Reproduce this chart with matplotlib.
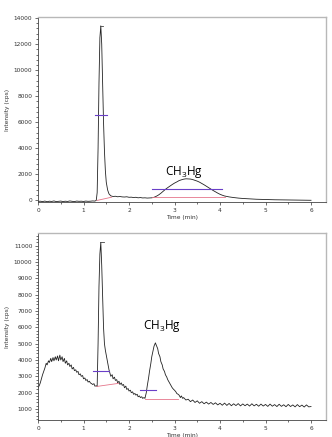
import matplotlib
matplotlib.use("Agg")
import matplotlib.pyplot as plt
from matplotlib.ticker import MultipleLocator

plt.rcParams['font.family'] = ['DejaVu Sans']
plt.rcParams['mathtext.fontset'] = 'custom'
plt.rcParams['mathtext.rm'] = 'Open Sans'
plt.rcParams['mathtext.it'] = 'Open Sans'

# top chromatogram (time in min, intensity in cps)
t_top = [0.00, 0.05, 0.10, 0.15, 0.20, 0.25, 0.30, 0.35, 0.40, 0.45, 0.50, 0.55,
         0.60, 0.65, 0.70, 0.75, 0.80, 0.85, 0.90, 0.95, 1.00, 1.05, 1.10, 1.15,
         1.20, 1.25, 1.28, 1.30, 1.32, 1.34, 1.36, 1.38, 1.40, 1.42, 1.44, 1.46,
         1.48, 1.50, 1.53, 1.56, 1.60, 1.65, 1.70, 1.75, 1.80, 1.85, 1.90, 1.95,
         2.00, 2.05, 2.10, 2.15, 2.20, 2.25, 2.30, 2.35, 2.40, 2.45, 2.50, 2.55,
         2.60, 2.65, 2.70, 2.75, 2.80, 2.85, 2.90, 2.95, 3.00, 3.05, 3.10, 3.15,
         3.20, 3.25, 3.30, 3.35, 3.40, 3.45, 3.50, 3.55, 3.60, 3.65, 3.70, 3.75,
         3.80, 3.85, 3.90, 3.95, 4.00, 4.05, 4.10, 4.20, 4.30, 4.40, 4.50, 4.60,
         4.70, 4.80, 4.90, 5.00, 5.20, 5.40, 5.60, 5.80, 6.00]
i_top = [-80, -60, -90, -50, -100, -60, -80, -40, -90, -70, -50, -90,
         -60, -80, -40, -70, -90, -50, -70, -60, -80, -50, -70, -60,
         -40, -50, 0, 600, 4000, 9000, 12500, 13400, 12000, 9000, 6000, 3800,
         2300, 1400, 800, 500, 350, 300, 320, 280, 300, 270, 260, 280,
         240, 250, 220, 240, 200, 220, 190, 200, 180, 190, 200, 240,
         320, 420, 550, 700, 850, 980, 1100, 1220, 1330, 1420, 1520, 1580,
         1630, 1660, 1650, 1640, 1600, 1540, 1480, 1400, 1300, 1200, 1090, 980,
         870, 760, 660, 560, 470, 400, 340, 270, 220, 180, 150, 130,
         110, 90, 80, 70, 50, 40, 30, 20, 10]

# bottom chromatogram
t_bot = [0.00, 0.03, 0.05, 0.08, 0.10, 0.13, 0.15, 0.18, 0.20, 0.23, 0.25, 0.28,
         0.30, 0.33, 0.35, 0.38, 0.40, 0.43, 0.45, 0.48, 0.50, 0.53, 0.55, 0.58,
         0.60, 0.63, 0.65, 0.68, 0.70, 0.73, 0.75, 0.78, 0.80, 0.83, 0.85, 0.88,
         0.90, 0.93, 0.95, 0.98, 1.00, 1.03, 1.05, 1.08, 1.10, 1.13, 1.15, 1.18,
         1.20, 1.23, 1.25, 1.28, 1.30, 1.32, 1.34, 1.36, 1.38, 1.40, 1.42, 1.44,
         1.46, 1.48, 1.50, 1.52, 1.54, 1.56, 1.58, 1.60, 1.63, 1.65, 1.68, 1.70,
         1.73, 1.75, 1.78, 1.80, 1.83, 1.85, 1.88, 1.90, 1.93, 1.95, 1.98, 2.00,
         2.03, 2.05, 2.08, 2.10, 2.13, 2.15, 2.18, 2.20, 2.23, 2.25, 2.28, 2.30,
         2.33, 2.35, 2.38, 2.40, 2.43, 2.45, 2.48, 2.50, 2.53, 2.55, 2.58, 2.60,
         2.63, 2.65, 2.68, 2.70, 2.73, 2.75, 2.78, 2.80, 2.83, 2.85, 2.88, 2.90,
         2.93, 2.95, 2.98, 3.00, 3.03, 3.05, 3.08, 3.10, 3.13, 3.15, 3.18, 3.20,
         3.25, 3.30, 3.35, 3.40, 3.45, 3.50, 3.55, 3.60, 3.65, 3.70, 3.75, 3.80,
         3.85, 3.90, 3.95, 4.00, 4.05, 4.10, 4.15, 4.20, 4.25, 4.30, 4.35, 4.40,
         4.45, 4.50, 4.55, 4.60, 4.65, 4.70, 4.75, 4.80, 4.85, 4.90, 4.95, 5.00,
         5.05, 5.10, 5.15, 5.20, 5.25, 5.30, 5.35, 5.40, 5.45, 5.50, 5.55, 5.60,
         5.65, 5.70, 5.75, 5.80, 5.85, 5.90, 5.95, 6.00]
i_bot = [2300, 2450, 2600, 2900, 3100, 3350, 3500, 3800, 3700, 3950, 3850, 4100,
         3900, 4150, 3950, 4200, 4000, 4250, 3950, 4300, 4000, 4200, 3900, 4100,
         3800, 3950, 3700, 3800, 3600, 3700, 3450, 3550, 3350, 3400, 3250, 3300,
         3100, 3150, 3000, 3050, 2850, 2900, 2750, 2800, 2650, 2700, 2600, 2550,
         2500, 2550, 2400, 2420, 2380, 5000, 8500, 10500, 11200, 9800, 7800, 6000,
         5000, 4600, 4300, 4000, 3700, 3400, 3200, 3000, 3100, 2850, 2950, 2750,
         2800, 2600, 2700, 2500, 2600, 2450, 2500, 2300, 2400, 2200, 2250, 2100,
         2150, 2000, 2050, 1900, 1950, 1850, 1900, 1750, 1800, 1700, 1750, 1650,
         1700, 1650, 2000, 2400, 2900, 3300, 3800, 4200, 4600, 4850, 5050, 4900,
         4700, 4400, 4200, 3900, 3700, 3450, 3300, 3100, 2950, 2800, 2650, 2550,
         2400, 2300, 2200, 2150, 2050, 1950, 1900, 1850, 1700, 1800, 1650, 1700,
         1550, 1600, 1450, 1550, 1400, 1500, 1350, 1450, 1320, 1420, 1300, 1400,
         1280, 1380, 1250, 1350, 1230, 1360, 1220, 1340, 1200, 1320, 1210, 1330,
         1190, 1310, 1200, 1300, 1180, 1320, 1190, 1290, 1170, 1300, 1180, 1280,
         1160, 1300, 1170, 1270, 1150, 1290, 1160, 1260, 1140, 1280, 1150, 1250,
         1130, 1270, 1140, 1240, 1120, 1250, 1130, 1150]

# integration marks: (t_start, t_end, level)
top_half = [(1.25, 1.52, 6540), (2.50, 4.05, 840)]
top_base = [([1.30, 1.62], [0, 250]), ([2.50, 4.10], [280, 280])]
bot_half = [(1.20, 1.57, 3350), (2.24, 2.59, 2160)]
bot_base = [([1.29, 1.77], [2380, 2570]), ([2.35, 3.07], [1610, 1610])]

fig = plt.figure(figsize=(3.32, 4.37), dpi=100)
ax1 = fig.add_axes([0.1145, 0.5378, 0.8675, 0.4233])
ax2 = fig.add_axes([0.1145, 0.0389, 0.8675, 0.428])


def style(ax, ymaj, ymin):
    ax.set_xlim(0, 6.33)
    ax.xaxis.set_major_locator(MultipleLocator(1))
    ax.xaxis.set_minor_locator(MultipleLocator(0.5))
    ax.yaxis.set_major_locator(MultipleLocator(ymaj))
    ax.yaxis.set_minor_locator(MultipleLocator(ymin))
    ax.tick_params(labelsize=4.2, colors='#333333', length=2.5, width=0.5, pad=1.5)
    ax.tick_params(which='minor', length=1.5, width=0.4)
    for s in ['top', 'right']:
        ax.spines[s].set_color('#b8b8b8')
        ax.spines[s].set_linewidth(1.0)
    for s in ['left', 'bottom']:
        ax.spines[s].set_color('#444444')
        ax.spines[s].set_linewidth(0.6)
    ax.set_xlabel('Time (min)', fontsize=4.2, labelpad=1.5, color='#333333')
    ax.set_ylabel('Intensity (cps)', fontsize=4.2, labelpad=3, color='#333333')


style(ax1, 2000, 400)
ax1.set_ylim(-120, 14080)
ax1.plot(t_top, i_top, color='#222222', lw=0.6)
for a, b, lv in top_half:
    ax1.plot([a, b], [lv, lv], color='#6a3fc8', lw=0.8, zorder=3)
for xs, ys in top_base:
    ax1.plot(xs, ys, color='#e5758a', lw=0.6)
ax1.plot([1.37, 1.43], [13400, 13400], color='#444444', lw=0.6)
ax1.text(2.78, 1950, r'CH$_{\mathrm{3}}$Hg', fontsize=8.5, family='Open Sans')

style(ax2, 1000, 200)
ax2.set_ylim(326, 11780)
ax2.plot(t_bot, i_bot, color='#222222', lw=0.6)
for a, b, lv in bot_half:
    ax2.plot([a, b], [lv, lv], color='#6a3fc8', lw=0.8, zorder=3)
for xs, ys in bot_base:
    ax2.plot(xs, ys, color='#e5758a', lw=0.6)
ax2.plot([1.37, 1.45], [11250, 11250], color='#444444', lw=0.6)
ax2.text(2.30, 5900, r'CH$_{\mathrm{3}}$Hg', fontsize=8.5, family='Open Sans')

fig.savefig('out.png', dpi=100)
